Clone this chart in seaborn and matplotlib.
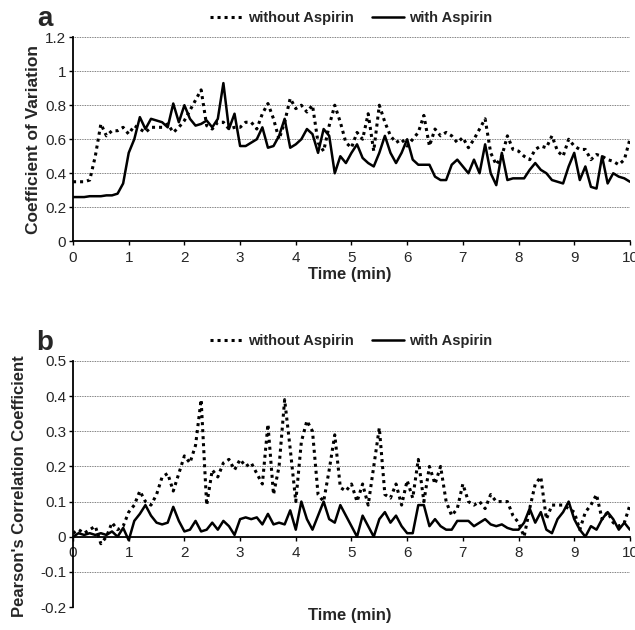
import numpy as np
import matplotlib
matplotlib.use("Agg")
import matplotlib.pyplot as plt
import seaborn as sns

# time axis, 0.1 min sampling
time_min = np.round(np.arange(0, 10.05, 0.1), 1)

# (a) coefficient of variation
cv_without = [
    0.35, 0.35, 0.35, 0.36, 0.50, 0.69, 0.62, 0.65, 0.65, 0.67,
    0.63, 0.68, 0.66, 0.64, 0.67, 0.67, 0.67, 0.69, 0.64, 0.67,
    0.71, 0.77, 0.83, 0.89, 0.68, 0.66, 0.70, 0.70, 0.66, 0.67,
    0.67, 0.70, 0.70, 0.66, 0.75, 0.81, 0.72, 0.60, 0.70, 0.84,
    0.78, 0.80, 0.76, 0.80, 0.58, 0.53, 0.68, 0.80, 0.70, 0.58,
    0.55, 0.64, 0.60, 0.75, 0.53, 0.80, 0.70, 0.62, 0.58, 0.60,
    0.56, 0.60, 0.64, 0.74, 0.56, 0.66, 0.62, 0.64, 0.62, 0.58,
    0.61, 0.55, 0.60, 0.66, 0.72, 0.52, 0.45, 0.50, 0.62, 0.54,
    0.53, 0.50, 0.48, 0.54, 0.56, 0.55, 0.62, 0.53, 0.50, 0.60,
    0.56, 0.54, 0.54, 0.48, 0.51, 0.50, 0.48, 0.47, 0.45, 0.48,
    0.60,
]
cv_with = [
    0.26, 0.26, 0.26, 0.265, 0.265, 0.265, 0.27, 0.27, 0.28, 0.34,
    0.52, 0.60, 0.73, 0.66, 0.72, 0.71, 0.70, 0.67, 0.81, 0.70,
    0.80, 0.72, 0.68, 0.69, 0.71, 0.67, 0.72, 0.93, 0.66, 0.75,
    0.56, 0.56, 0.58, 0.60, 0.67, 0.55, 0.56, 0.62, 0.72, 0.55,
    0.57, 0.60, 0.66, 0.63, 0.52, 0.66, 0.62, 0.40, 0.50, 0.46,
    0.52, 0.57, 0.49, 0.46, 0.44, 0.52, 0.62, 0.52, 0.46, 0.52,
    0.60, 0.48, 0.45, 0.45, 0.45, 0.38, 0.36, 0.36, 0.45, 0.48,
    0.44, 0.40, 0.48, 0.40, 0.57, 0.40, 0.33, 0.52, 0.36, 0.37,
    0.37, 0.37, 0.42, 0.46, 0.42, 0.40, 0.36, 0.35, 0.34, 0.44,
    0.52, 0.36, 0.44, 0.32, 0.31, 0.50, 0.34, 0.40, 0.38, 0.37,
    0.35,
]

# (b) Pearson's correlation coefficient
r_without = [
    0.01, 0.02, 0.01, 0.02, 0.03, -0.02, 0.00, 0.04, 0.02, 0.03,
    0.07, 0.09, 0.13, 0.10, 0.09, 0.12, 0.17, 0.18, 0.13, 0.18,
    0.23, 0.21, 0.26, 0.39, 0.09, 0.19, 0.17, 0.21, 0.22, 0.19,
    0.22, 0.20, 0.21, 0.18, 0.15, 0.32, 0.12, 0.20, 0.39, 0.25,
    0.10, 0.27, 0.33, 0.30, 0.12, 0.10, 0.19, 0.29, 0.14, 0.13,
    0.15, 0.10, 0.15, 0.09, 0.20, 0.31, 0.12, 0.11, 0.15, 0.09,
    0.16, 0.11, 0.22, 0.10, 0.20, 0.15, 0.20, 0.10, 0.06, 0.08,
    0.15, 0.10, 0.09, 0.10, 0.08, 0.12, 0.10, 0.10, 0.10, 0.06,
    0.04, 0.00, 0.08, 0.15, 0.17, 0.05, 0.09, 0.09, 0.09, 0.08,
    0.07, 0.02, 0.07, 0.09, 0.12, 0.05, 0.07, 0.04, 0.03, 0.04,
    0.09,
]
r_with = [
    0.00, 0.01, 0.005, 0.01, 0.005, 0.01, 0.005, 0.015, 0.00, 0.025,
    -0.01, 0.045, 0.065, 0.09, 0.06, 0.04, 0.035, 0.04, 0.085, 0.045,
    0.015, 0.02, 0.045, 0.015, 0.02, 0.04, 0.02, 0.045, 0.03, 0.005,
    0.05, 0.055, 0.05, 0.055, 0.035, 0.065, 0.035, 0.04, 0.035, 0.075,
    0.02, 0.10, 0.05, 0.02, 0.06, 0.10, 0.05, 0.04, 0.09, 0.06,
    0.03, 0.00, 0.06, 0.03, 0.00, 0.05, 0.07, 0.04, 0.06, 0.03,
    0.01, 0.01, 0.09, 0.09, 0.03, 0.05, 0.03, 0.02, 0.02, 0.045,
    0.045, 0.045, 0.03, 0.04, 0.05, 0.035, 0.03, 0.035, 0.025, 0.02,
    0.02, 0.04, 0.08, 0.04, 0.07, 0.02, 0.01, 0.05, 0.07, 0.10,
    0.05, 0.02, 0.00, 0.03, 0.02, 0.05, 0.07, 0.05, 0.02, 0.04,
    0.02,
]

x_ticks = list(range(0, 11))
cv_ticks = [0, 0.2, 0.4, 0.6, 0.8, 1.0, 1.2]
cv_tick_labels = ["0", "0.2", "0.4", "0.6", "0.8", "1", "1.2"]
r_ticks = [-0.2, -0.1, 0, 0.1, 0.2, 0.3, 0.4, 0.5]
r_tick_labels = ["-0.2", "-0.1", "0", "0.1", "0.2", "0.3", "0.4", "0.5"]

sns.set_style("white")
plt.rcParams["font.family"] = ["Liberation Sans", "DejaVu Sans"]

DOTTED = (0, (1, 1.3))
fig = plt.figure(figsize=(6.35, 6.3), dpi=100)
ax_a = fig.add_axes([0.115, 0.617, 0.877, 0.324])
ax_b = fig.add_axes([0.115, 0.0365, 0.877, 0.3905])


def style_axes(ax, yticks, ylabels):
    ax.set_xlim(0, 10)
    ax.set_xticks(x_ticks)
    ax.set_yticks(yticks)
    ax.set_yticklabels(ylabels)
    ax.grid(axis="y", color="#555555", ls=(0, (1, 1)), lw=0.6)
    ax.grid(axis="x", visible=False)
    for side in ["top", "right"]:
        ax.spines[side].set_visible(False)
    for side in ["left", "bottom"]:
        ax.spines[side].set_color("black")
        ax.spines[side].set_linewidth(1.3)
    ax.tick_params(axis="both", which="major", direction="out", length=3,
                   width=1, color="black", labelsize=11, pad=2,
                   left=True, bottom=True)
    ax.tick_params(axis="x", pad=4)


for ax, y_wo, y_w in [(ax_a, cv_without, cv_with), (ax_b, r_without, r_with)]:
    sns.lineplot(x=time_min, y=y_wo, ax=ax, color="black", lw=2.2,
                 linestyle=DOTTED, label="without Aspirin")
    sns.lineplot(x=time_min, y=y_w, ax=ax, color="black", lw=1.8,
                 label="with Aspirin")
    leg = ax.legend(loc="lower center", bbox_to_anchor=(0.5, 1.03), ncol=2,
                    frameon=False, handlelength=2.2, columnspacing=1.2,
                    handletextpad=0.4, borderaxespad=0,
                    prop={"weight": "bold", "size": 10.5})

style_axes(ax_a, cv_ticks, cv_tick_labels)
ax_a.set_ylim(0, 1.2)
ax_a.set_xlabel("")
ax_a.text(0.497, -0.165, "Time (min)", transform=ax_a.transAxes, ha="center",
          va="center", fontweight="bold", fontsize=12)
ax_a.set_ylabel("Coefficient of Variation", fontweight="bold", fontsize=12.5,
                labelpad=3)

style_axes(ax_b, r_ticks, r_tick_labels)
ax_b.set_ylim(-0.2, 0.5)
ax_b.spines["bottom"].set_position(("data", 0))
ax_b.set_xlabel("")
ax_b.text(0.497, -0.035, "Time (min)", transform=ax_b.transAxes, ha="center",
          va="center", fontweight="bold", fontsize=12)
ax_b.set_ylabel("Pearson's Correlation Coefficient", fontweight="bold",
                fontsize=12, labelpad=4)
ax_b.yaxis.set_label_coords(-0.083, 0.49)

fig.text(0.07, 0.97, "a", fontsize=20, fontweight="bold", ha="center",
         va="center")
fig.text(0.07, 0.455, "b", fontsize=20, fontweight="bold", ha="center",
         va="center")

fig.savefig("out.png", dpi=100)
